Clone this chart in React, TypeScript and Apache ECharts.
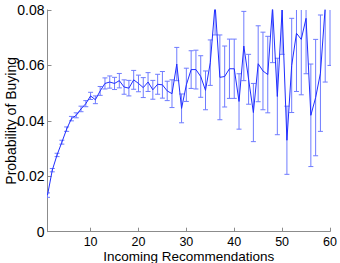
import React, { useEffect, useRef } from "react";
import * as echarts from "echarts";

const incoming = [
  1, 2, 3, 4, 5, 6, 7, 8, 9, 10,
  11, 12, 13, 14, 15, 16, 17, 18, 19, 20,
  21, 22, 23, 24, 25, 26, 27, 28, 29, 30,
  31, 32, 33, 34, 35, 36, 37, 38, 39, 40,
  41, 42, 43, 44, 45, 46, 47, 48, 49, 50,
  51, 52, 53, 54, 55, 56, 57, 58, 59, 60,
];

const probability = [
  0.0132, 0.0222, 0.0277, 0.0323, 0.037, 0.0408, 0.042, 0.0443, 0.0462, 0.049,
  0.0476, 0.0508, 0.0535, 0.054, 0.0535, 0.0545, 0.0522, 0.0518, 0.0548, 0.0535,
  0.052, 0.054, 0.0512, 0.0532, 0.053, 0.0508, 0.0498, 0.0605, 0.0445, 0.053,
  0.0585, 0.0585, 0.056, 0.051, 0.061, 0.082, 0.0557, 0.056, 0.0588, 0.0588,
  0.047, 0.067, 0.055, 0.043, 0.0606, 0.058, 0.0567, 0.081, 0.0488, 0.08,
  0.033, 0.06, 0.0716, 0.0694, 0.077, 0.042, 0.0484, 0.0572, 0.081, 0.088,
];

const errorHalf = [
  0.0008, 0.0006, 0.0006, 0.0007, 0.0008, 0.0008, 0.0009, 0.001, 0.0011, 0.0013,
  0.0014, 0.0016, 0.002, 0.0022, 0.0022, 0.0026, 0.0026, 0.0028, 0.0034, 0.003,
  0.0036, 0.0034, 0.0034, 0.0036, 0.0048, 0.0035, 0.005, 0.006, 0.0052, 0.006,
  0.0068, 0.007, 0.0075, 0.007, 0.0082, 0.011, 0.0153, 0.011, 0.0107, 0.0107,
  0.01, 0.0125, 0.009, 0.0105, 0.0137, 0.014, 0.0138, 0.02, 0.0138, 0.016,
  0.0123, 0.017, 0.021, 0.02, 0.02, 0.0185, 0.021, 0.021, 0.027, 0.028,
];

const xTicks = [10, 20, 30, 40, 50, 60];

const LINE_COLOR = "#1f2dff";
const BAR_COLOR = "#6f7cff";
const AXIS_COLOR = "#8c8c8c";
const FONT = "Liberation Sans, Arial, sans-serif";

export default function App() {
  const ref = useRef<HTMLDivElement>(null);

  useEffect(() => {
    if (!ref.current) return;
    const chart = echarts.init(ref.current, undefined, { renderer: "svg" });

    const lineData = incoming.map((n, i) => [n, probability[i]]);
    const barData = incoming.map((n, i) => [n, probability[i], errorHalf[i]]);

    chart.setOption({
      animation: false,
      backgroundColor: "#ffffff",
      grid: {
        left: 47.5,
        right: 10,
        top: 10,
        bottom: 31.3,
        containLabel: false,
        outerBoundsMode: "none",
      },
      xAxis: {
        type: "value",
        min: 1,
        max: 60,
        name: "Incoming Recommendations",
        nameLocation: "middle",
        nameGap: 17.6,
        nameMoveOverlap: false,
        nameTextStyle: { color: "#000", fontSize: 13.5, fontFamily: FONT },
        splitLine: { show: false },
        axisLine: { show: true, lineStyle: { color: AXIS_COLOR, width: 1 } },
        axisTick: {
          show: true,
          inside: true,
          length: 4,
          customValues: xTicks,
          lineStyle: { color: AXIS_COLOR },
        },
        axisLabel: {
          color: "#000",
          fontSize: 12.5,
          fontFamily: FONT,
          margin: 3.5,
          customValues: xTicks,
        },
      },
      yAxis: {
        type: "value",
        min: 0,
        max: 0.08,
        interval: 0.02,
        name: "Probability of Buying",
        nameLocation: "middle",
        nameGap: 30,
        nameMoveOverlap: false,
        nameTextStyle: { color: "#000", fontSize: 14, fontFamily: FONT },
        splitLine: { show: false },
        axisLine: { show: true, lineStyle: { color: AXIS_COLOR, width: 1 } },
        axisTick: { show: true, inside: true, length: 4, lineStyle: { color: AXIS_COLOR } },
        axisLabel: {
          color: "#000",
          fontSize: 14,
          fontFamily: FONT,
          margin: 3,
          formatter: (v: number) => (v === 0 ? "0" : v.toFixed(2)),
        },
      },
      series: [
        {
          type: "custom",
          clip: true,
          data: barData,
          encode: { x: 0, y: 1 },
          renderItem: (params: any, api: any) => {
            const x = api.value(0);
            const v = api.value(1);
            const e = api.value(2);
            const top = api.coord([x, v + e]);
            const bot = api.coord([x, v - e]);
            const cw = 2.5;
            const style = { stroke: BAR_COLOR, lineWidth: 1 };
            return {
              type: "group",
              children: [
                { type: "line", shape: { x1: top[0], y1: top[1], x2: bot[0], y2: bot[1] }, style },
                { type: "line", shape: { x1: top[0] - cw, y1: top[1], x2: top[0] + cw, y2: top[1] }, style },
                { type: "line", shape: { x1: bot[0] - cw, y1: bot[1], x2: bot[0] + cw, y2: bot[1] }, style },
              ],
            };
          },
          z: 2,
        },
        {
          type: "line",
          data: lineData,
          showSymbol: false,
          symbol: "none",
          clip: true,
          lineStyle: { color: LINE_COLOR, width: 1 },
          z: 3,
        },
      ],
    });

    return () => chart.dispose();
  }, []);

  return (
    <div
      ref={ref}
      style={{ position: "fixed", left: 0, top: 0, width: 340, height: 263 }}
    />
  );
}
